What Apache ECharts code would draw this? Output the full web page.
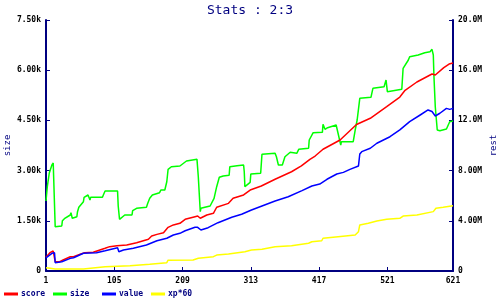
<!DOCTYPE html>
<html>
<head>
<meta charset="utf-8">
<script src="https://cdn.jsdelivr.net/npm/echarts@6/dist/echarts.min.js"></script>
<style>html,body{margin:0;padding:0;background:#fff}#c{width:500px;height:300px}</style>
</head>
<body>
<div id="c"></div>
<script>
var titleText = "Stats : 2:3";
var seriesNames = ["score", "size", "value", "xp*60"];
var seriesColors = ["#ff0000", "#00ff00", "#0000ff", "#ffff00"];

// size (left axis)
var sizeX = [1,3,6,10,12,14,15,25,26,29,38,39,41,48,49,51,58,59,65,68,69,87,89,91,110,111,113,115,121,132,133,139,154,156,159,163,174,176,182,185,187,192,205,208,215,231,233,236,237,243,251,257,261,265,271,280,281,292,302,303,304,307,312,313,328,330,350,352,355,361,365,373,383,386,401,402,408,422,423,426,430,443,446,450,451,469,472,475,479,496,499,516,519,521,543,545,553,555,568,571,578,586,589,591,592,594,597,601,611,614,616,621];
var sizeY = [2090,2519,2928,3167,3227,3257,1324,1345,1503,1563,1673,1742,1575,1622,1772,1903,2071,2202,2271,2121,2202,2202,2301,2390,2390,1942,1545,1593,1673,1673,1802,1873,1903,2023,2172,2271,2340,2420,2420,2668,3039,3116,3137,3137,3287,3337,2818,1772,1873,1903,1942,2172,2519,2800,2839,2860,3117,3146,3167,2967,2519,2540,2650,2898,2919,3487,3517,3415,3167,3167,3415,3547,3517,3636,3666,3914,4132,4144,4383,4234,4282,4362,4333,3765,3863,3863,4213,4512,5160,5190,5459,5507,5707,5358,5429,6057,6305,6403,6454,6484,6523,6553,6624,6454,5806,4909,4213,4192,4243,4294,4461,4482];

// score (right axis, millions)
var scoreX = [1,7,12,14,15,22,27,38,40,43,53,60,73,91,98,109,111,124,139,157,162,170,180,187,195,205,213,228,232,236,246,256,261,279,286,302,312,329,350,375,390,403,411,423,449,474,495,520,540,548,566,589,592,594,607,615,621];
var scoreY = [1.10,1.46,1.59,1.62,0.74,0.74,0.88,1.14,1.20,1.14,1.33,1.46,1.49,1.81,1.94,2.02,1.89,2.07,2.25,2.53,2.79,2.92,3.05,3.48,3.67,3.80,4.12,4.33,4.38,4.20,4.46,4.60,5.08,5.39,5.79,6.06,6.45,6.77,7.31,7.91,8.37,8.90,9.16,9.70,10.44,11.67,12.17,13.09,13.86,14.40,15.06,15.70,15.82,15.62,16.21,16.49,16.57];

// value (right axis, millions)
var valueX = [1,10,14,15,25,38,43,58,78,91,110,112,119,134,154,170,185,195,205,213,228,232,237,248,263,284,299,314,330,350,370,391,406,418,429,444,454,464,477,479,482,495,505,515,525,540,555,571,583,589,591,594,601,611,616,621];
var valueY = [1.05,1.41,1.46,0.66,0.74,1.01,1.06,1.41,1.46,1.62,1.86,1.54,1.67,1.81,2.07,2.41,2.61,2.87,3.00,3.21,3.48,3.48,3.27,3.45,3.85,4.28,4.52,4.86,5.18,5.58,5.92,6.40,6.77,6.93,7.31,7.73,7.86,8.10,8.37,9.32,9.51,9.78,10.18,10.44,10.70,11.24,11.90,12.43,12.83,12.71,12.83,12.35,12.57,12.96,12.88,12.96];

// xp*60 (right axis, millions)
var xpX = [1,7,15,58,60,91,129,159,162,185,187,225,233,256,261,279,304,314,330,350,375,378,401,406,421,423,446,472,477,479,492,505,520,540,545,566,591,595,606,621];
var xpY = [0.26,0.22,0.16,0.16,0.26,0.34,0.42,0.53,0.66,0.66,0.86,0.88,1.01,1.14,1.27,1.35,1.54,1.67,1.73,1.94,2.02,2.15,2.21,2.33,2.41,2.61,2.73,2.87,3.13,3.67,3.80,3.98,4.12,4.20,4.38,4.46,4.73,5.00,5.08,5.20];

var xTicks = {min: 1, max: 621, interval: 104};
var leftTicks = {min: 0, max: 7500, interval: 1500};
var rightTicks = {min: 0, max: 20, interval: 4};

function pairs(xs, ys) { return xs.map(function (x, i) { return [x, ys[i]]; }); }
function fmtK(v) { return v === 0 ? "0" : (v / 1000).toPrecision(3) + "k"; }
function fmtM(v) { return v === 0 ? "0" : v.toPrecision(3) + "M"; }

var NAVY = "#000080";
var FONT = "DejaVu Sans Mono";
var axisLabelStyle = {color: "#000", fontFamily: FONT, fontSize: 8, fontWeight: "bold"};

var legendLefts = [4, 53, 102, 151];
var legends = seriesNames.map(function (n, i) {
  return {
    left: legendLefts[i], top: 290, itemWidth: 14, itemHeight: 3, itemGap: 0, icon: "rect",
    padding: 0, data: [n],
    textStyle: {color: NAVY, fontFamily: FONT, fontSize: 8, fontWeight: "bold", padding: [0, 0, 0, -2]}
  };
});

var chart = echarts.init(document.getElementById("c"), null, {renderer: "canvas"});
chart.setOption({
  animation: false,
  backgroundColor: "#fff",
  title: {
    text: titleText, left: "center", top: -1,
    textStyle: {color: NAVY, fontFamily: FONT, fontSize: 13, fontWeight: "normal"}
  },
  legend: legends,
  grid: {left: 46, right: 47, top: 20, bottom: 29, containLabel: false, outerBoundsMode: "none"},
  xAxis: {
    type: "value", min: xTicks.min, max: xTicks.max, interval: xTicks.interval,
    axisLine: {lineStyle: {color: NAVY, width: 2}},
    axisTick: {inside: true, length: 4, lineStyle: {color: NAVY, width: 1}},
    axisLabel: Object.assign({margin: 6, showMinLabel: true, showMaxLabel: true}, axisLabelStyle),
    splitLine: {show: false}
  },
  yAxis: [{
    type: "value", position: "left", min: leftTicks.min, max: leftTicks.max, interval: leftTicks.interval,
    name: "size", nameLocation: "middle", nameGap: 34, nameRotate: 90, nameMoveOverlap: false,
    nameTextStyle: {color: NAVY, fontFamily: FONT, fontSize: 9},
    axisLine: {show: true, lineStyle: {color: NAVY, width: 2}},
    axisTick: {show: true, inside: true, length: 4, lineStyle: {color: NAVY, width: 1}},
    axisLabel: Object.assign({margin: 5, formatter: fmtK}, axisLabelStyle),
    splitLine: {show: false}
  }, {
    type: "value", position: "right", min: rightTicks.min, max: rightTicks.max, interval: rightTicks.interval,
    name: "rest", nameLocation: "middle", nameGap: 36, nameRotate: 90, nameMoveOverlap: false,
    nameTextStyle: {color: NAVY, fontFamily: FONT, fontSize: 9},
    axisLine: {show: true, lineStyle: {color: NAVY, width: 2}},
    axisTick: {show: true, inside: true, length: 4, lineStyle: {color: NAVY, width: 1}},
    axisLabel: Object.assign({margin: 5, formatter: fmtM}, axisLabelStyle),
    splitLine: {show: false}
  }],
  series: [
    {name: seriesNames[0], type: "line", yAxisIndex: 1, showSymbol: false, symbol: "none", color: seriesColors[0], lineStyle: {width: 1.5}, data: pairs(scoreX, scoreY), z: 4},
    {name: seriesNames[1], type: "line", yAxisIndex: 0, showSymbol: false, symbol: "none", color: seriesColors[1], lineStyle: {width: 1.5}, data: pairs(sizeX, sizeY), z: 3},
    {name: seriesNames[2], type: "line", yAxisIndex: 1, showSymbol: false, symbol: "none", color: seriesColors[2], lineStyle: {width: 1.5}, data: pairs(valueX, valueY), z: 5},
    {name: seriesNames[3], type: "line", yAxisIndex: 1, showSymbol: false, symbol: "none", color: seriesColors[3], lineStyle: {width: 1.5}, data: pairs(xpX, xpY), z: 2}
  ]
});
</script>
</body>
</html>
